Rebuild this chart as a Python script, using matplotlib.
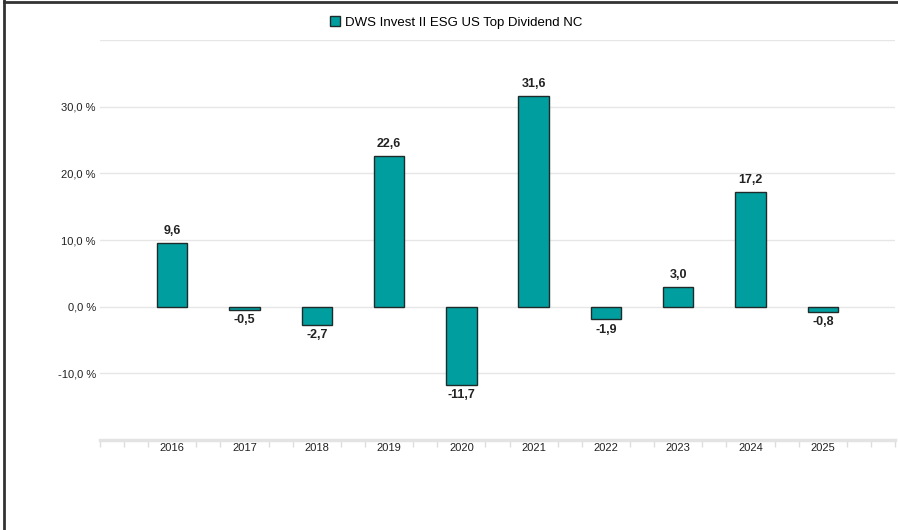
from matplotlib import pyplot as plt
from matplotlib.lines import Line2D
from matplotlib.patches import Patch

plt.rcParams['font.family'] = ['Liberation Sans', 'DejaVu Sans']

# Data
YEARS = ['2016', '2017', '2018', '2019', '2020',
         '2021', '2022', '2023', '2024', '2025']
RETURNS = [9.6, -0.5, -2.7, 22.6, -11.7, 31.6, -1.9, 3.0, 17.2, -0.8]
SERIES_NAME = 'DWS Invest II ESG US Top Dividend NC'
YTICKS = [-10, 0, 10, 20, 30]

BAR_COLOR = '#009e9f'
EDGE_COLOR = '#1f2a2a'
GRID_COLOR = '#e6e6e6'
TEXT_COLOR = '#222222'

fig = plt.figure(figsize = (8.98, 5.30), dpi = 100)
ax = fig.add_axes([0.1114, 0.1698, 0.9967 - 0.1114, 0.9245 - 0.1698])

x = list(range(len(YEARS)))
bars = ax.bar(x, RETURNS, width = 0.42, color = BAR_COLOR,
              edgecolor = EDGE_COLOR, linewidth = 1, zorder = 3)

for xi, v in zip(x, RETURNS):
  label = ('%.1f' % v).replace('.', ',')
  if v >= 0:
    ax.annotate(label, (xi, v), xytext = (0, 4), textcoords = 'offset points',
                ha = 'center', va = 'bottom', fontsize = 9,
                fontweight = 'semibold', color = TEXT_COLOR)
  else:
    ax.annotate(label, (xi, v), xytext = (0, -3), textcoords = 'offset points',
                ha = 'center', va = 'top', fontsize = 9,
                fontweight = 'semibold', color = TEXT_COLOR)

ax.set_xlim(-1, len(YEARS))
ax.set_ylim(-20, 40)

ax.set_yticks(YTICKS + [40])
ax.set_yticklabels([('%.1f %%' % t).replace('.', ',') for t in YTICKS] + [''],
                   fontsize = 8, color = TEXT_COLOR)
ax.tick_params(axis = 'y', length = 0, pad = 3)
ax.yaxis.grid(True, color = GRID_COLOR, linewidth = 1, zorder = 0)

ax.set_xticks(x)
ax.set_xticklabels(YEARS, fontsize = 8, color = TEXT_COLOR)
ax.tick_params(axis = 'x', which = 'major', length = 0, pad = 2)
minor = [-1, len(YEARS)]
for i in range(-1, len(YEARS) + 1):
  minor += [i - 1 / 3, i + 1 / 3]
minor = [m for m in minor if -1 <= m <= len(YEARS)]
ax.set_xticks(minor, minor = True)
ax.tick_params(axis = 'x', which = 'minor', length = 5, width = 1,
               color = '#dddddd', direction = 'out')

for s in ['top', 'right', 'left']:
  ax.spines[s].set_visible(False)
ax.spines['bottom'].set_color('#e3e3e3')
ax.spines['bottom'].set_linewidth(2.5)
ax.set_axisbelow(True)

handle = Patch(facecolor = BAR_COLOR, edgecolor = EDGE_COLOR, linewidth = 1)
fig.legend([handle], [SERIES_NAME], loc = 'center', bbox_to_anchor = (0.508, 0.958),
           frameon = False, fontsize = 9.5, handlelength = 0.8, handleheight = 0.8,
           handletextpad = 0.4)

# screenshot frame on the top and left edges
fig.add_artist(Line2D([0.005, 0.005], [0, 1], transform = fig.transFigure,
                      color = '#333333', linewidth = 2))
fig.add_artist(Line2D([0.005, 1], [0.996, 0.996], transform = fig.transFigure,
                      color = '#333333', linewidth = 2))

fig.savefig('out.png', dpi = 100)
